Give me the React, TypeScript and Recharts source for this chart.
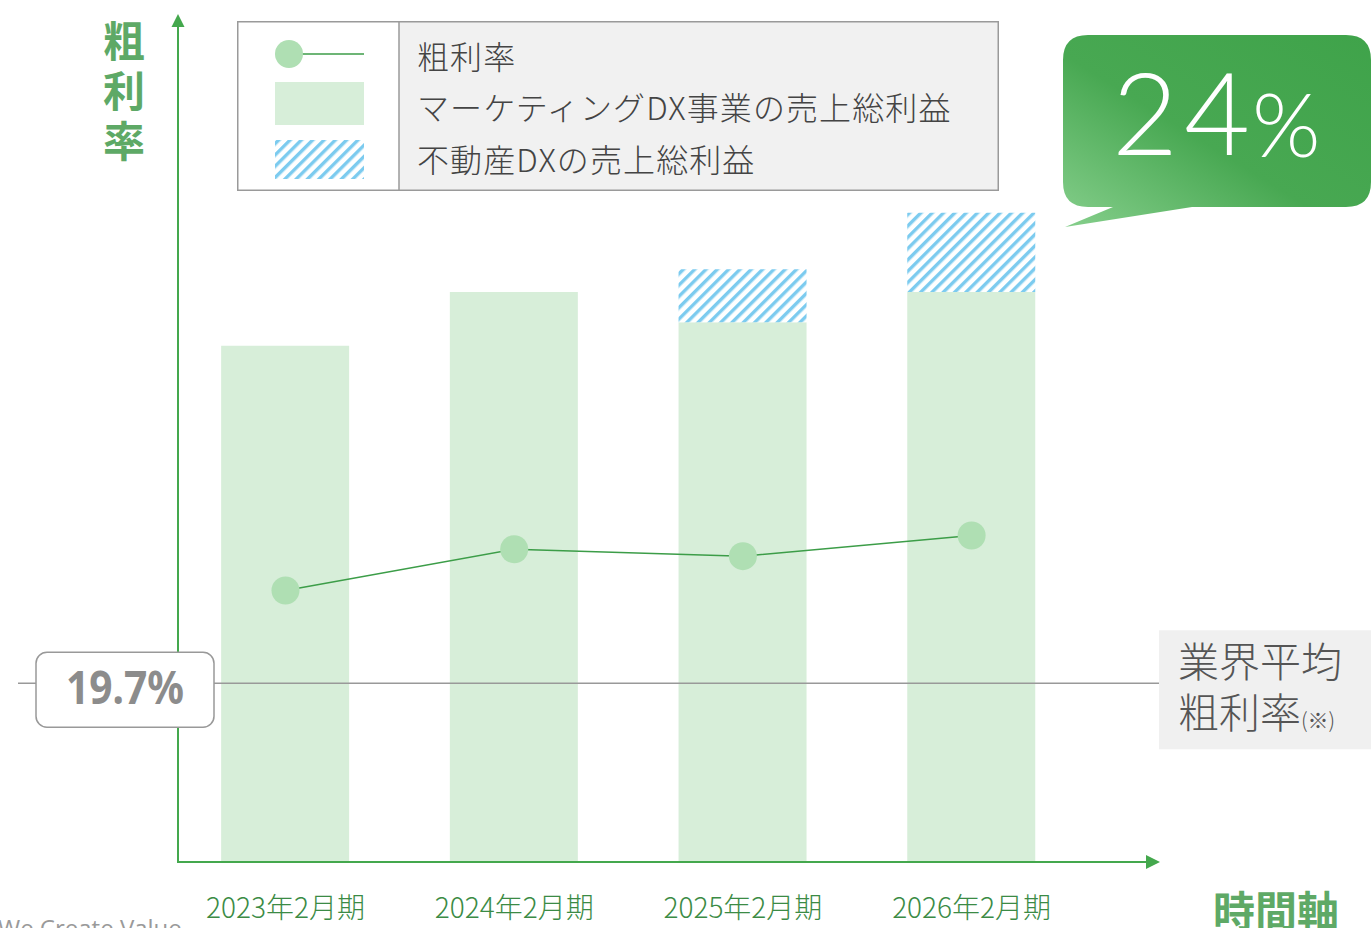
import React from 'react';
import { ComposedChart, Bar, Line, XAxis, YAxis, ReferenceLine, Legend } from 'recharts';

// 決算期
const periods = ['2023年2月期', '2024年2月期', '2025年2月期', '2026年2月期'];
// 売上総利益 (相対値)
const marketingProfit = [61.3, 67.7, 64.1, 67.7];
const realEstateProfit = [0, 0, 6.3, 9.4];
// 粗利率 (%)
const grossMargin = [22.4, 23.6, 23.4, 24.0];
const industryAverage = 19.7;
const targetMargin = '24';

const seriesNames: Record<string, string> = {
  margin: '粗利率',
  marketing: 'マーケティングDX事業の売上総利益',
  realEstate: '不動産DXの売上総利益',
};
const legendOrder = ['margin', 'marketing', 'realEstate'];

const data = periods.map((period, i) => ({
  idx: i,
  period,
  marketing: marketingProfit[i],
  realEstate: realEstateProfit[i],
  margin: grossMargin[i],
}));

const jp = '"Noto Sans CJK JP", "Noto Sans", sans-serif';
const axisGreen = '#44a84d';
const titleGreen = '#5ea966';
const barGreen = '#d7eed9';
const dotGreen = '#afdfb3';
const lineGreen = '#3c9d48';
const stripeBlue = '#7ccbef';

const HatchDef = ({ id }: { id: string }) => (
  <pattern id={id} patternUnits="userSpaceOnUse" width={8} height={8} patternTransform="rotate(45)">
    <rect width={8} height={8} fill="#fff" />
    <rect width={3.4} height={8} fill={stripeBlue} />
  </pattern>
);

const CategoryTick = (props: any) => {
  const { x, y, payload } = props;
  return (
    <text x={x} y={y + 56} textAnchor="middle" fill="#3b8b45" fontSize={28} fontFamily={jp} fontWeight={300}>
      {periods[payload.value]}
    </text>
  );
};

const renderLegend = (props: any) => {
  const items = [...(props.payload ?? [])].sort(
    (a: any, b: any) => legendOrder.indexOf(a.dataKey) - legendOrder.indexOf(b.dataKey)
  );
  const rowY = [36, 87, 139];
  return (
    <svg width={762} height={170} style={{ display: 'block' }}>
      <defs>
        <HatchDef id="legendHatch" />
      </defs>
      <rect x={162} y={0} width={600} height={170} fill="#f1f1f1" />
      <rect x={0.75} y={0.75} width={760.5} height={168.5} fill="none" stroke="#9a9a9a" strokeWidth={1.5} />
      <line x1={162} y1={0} x2={162} y2={170} stroke="#9a9a9a" strokeWidth={1.5} />
      {items.map((item: any, i: number) => {
        const cy = rowY[i];
        let symbol = null;
        if (item.dataKey === 'margin') {
          symbol = (
            <g>
              <line x1={52} y1={cy - 3} x2={127} y2={cy - 3} stroke={lineGreen} strokeWidth={1.5} />
              <circle cx={52} cy={cy - 3} r={14} fill={dotGreen} />
            </g>
          );
        } else if (item.dataKey === 'marketing') {
          symbol = <rect x={38} y={cy - 26} width={89} height={43} fill={barGreen} />;
        } else {
          symbol = <rect x={38} y={cy - 20} width={89} height={39} fill="url(#legendHatch)" />;
        }
        return (
          <g key={item.dataKey}>
            {symbol}
            <text x={180} y={cy + 12} fontSize={32} fill="#444" fontFamily={jp} fontWeight={300} letterSpacing={1.1}>
              {seriesNames[item.dataKey]}
            </text>
          </g>
        );
      })}
    </svg>
  );
};

const AverageLine = (props: any) => {
  const left = Math.min(props.x1, props.x2);
  const right = Math.max(props.x1, props.x2);
  const y = props.y1;
  return (
    <g>
      <line x1={left - 160} y1={y} x2={right + 4} y2={y} stroke="#999" strokeWidth={1.5} />
      <rect x={left - 142} y={y - 31} width={178} height={75} rx={11} fill="#fff" stroke="#999" strokeWidth={1.5} />
      <text
        x={left - 112}
        y={y + 21}
        fontSize={46}
        fontWeight={700}
        fill="#8c8c8c"
        fontFamily='"Noto Sans", sans-serif'
        textLength={118}
        lengthAdjust="spacingAndGlyphs"
      >
        {`${industryAverage}%`}
      </text>
      <rect x={right + 1} y={y - 53} width={1371 - right} height={119} fill="#f0f0f0" />
      <text x={right + 20} y={y - 6} fontSize={41} fill="#555" fontFamily={jp} fontWeight={300}>
        業界平均
      </text>
      <text x={right + 20} y={y + 45} fontSize={41} fill="#555" fontFamily={jp} fontWeight={300}>
        粗利率
        <tspan fontSize={21}>(※)</tspan>
      </text>
    </g>
  );
};

export default function App() {
  return (
    <div
      style={{
        position: 'absolute',
        left: 0,
        top: 0,
        width: 1371,
        height: 928,
        background: '#fff',
        overflow: 'hidden',
        fontFamily: jp,
      }}
    >
      {/* background layer: y axis line, arrows, titles, callout */}
      <svg width={1371} height={928} style={{ position: 'absolute', left: 0, top: 0 }}>
        <defs>
          <linearGradient id="bubbleFill" x1="0" y1="1" x2="1" y2="0">
            <stop offset="0%" stopColor="#86cf8c" />
            <stop offset="45%" stopColor="#48a852" />
            <stop offset="100%" stopColor="#3fa34a" />
          </linearGradient>
        </defs>
        <line x1={178} y1={20} x2={178} y2={863} stroke={axisGreen} strokeWidth={2} />
        <polygon points="178,14 171.5,27 184.5,27" fill={axisGreen} />
        <polygon points="1160,862 1146,855 1146,869" fill={axisGreen} />
        <text x={124} y={57} textAnchor="middle" fontSize={42} fontWeight={700} fill={titleGreen} fontFamily={jp}>
          <tspan x={124} dy={0}>粗</tspan>
          <tspan x={124} dy={50}>利</tspan>
          <tspan x={124} dy={50}>率</tspan>
        </text>
        <text x={1276} y={927} textAnchor="middle" fontSize={42} fontWeight={700} fill={titleGreen} fontFamily={jp}>
          時間軸
        </text>
        <path
          d="M 1088 35 H 1346 Q 1371 35 1371 60 V 182 Q 1371 207 1346 207 H 1192 L 1065 227 L 1113 207 H 1088 Q 1063 207 1063 182 V 60 Q 1063 35 1088 35 Z"
          fill="url(#bubbleFill)"
        />
        <text x={1112} y={155} fontSize={114} fill="#fff" fontFamily="Lato, sans-serif" fontWeight={300} letterSpacing={6}>
          {targetMargin}
        </text>
        <text x={1252} y={157} fontSize={88} fill="#fff" fontFamily="Lato, sans-serif" fontWeight={300}>
          %
        </text>
        <text x={-2} y={937} fontSize={24} fill="#9a9a9a" fontFamily='"Open Sans", sans-serif'>
          We Create Value
        </text>
      </svg>

      <div style={{ position: 'absolute', left: 0, top: 0 }}>
        <ComposedChart width={1371} height={928} data={data} margin={{ top: 20, right: 213, bottom: 0, left: 0 }}>
          <defs>
            <HatchDef id="barHatch" />
          </defs>
          <XAxis
            type="number"
            dataKey="idx"
            domain={[-0.47, 3.815]}
            ticks={[0, 1, 2, 3]}
            allowDataOverflow
            height={66}
            tickSize={0}
            tickMargin={0}
            tickLine={false}
            axisLine={{ stroke: axisGreen, strokeWidth: 2 }}
            tick={<CategoryTick />}
          />
          <YAxis yAxisId="left" width={178} domain={[0, 100]} allowDataOverflow tick={false} tickLine={false} axisLine={false} />
          <YAxis yAxisId="right" orientation="right" hide domain={[14.5, 39]} allowDataOverflow />
          <Legend
            layout="horizontal"
            verticalAlign="middle"
            align="center"
            width={762}
            height={170}
            wrapperStyle={{ left: 237, top: 21, width: 762, height: 170 }}
            content={renderLegend}
          />
          <Bar
            yAxisId="left"
            dataKey="marketing"
            name={seriesNames.marketing}
            stackId="profit"
            fill={barGreen}
            barSize={128}
            isAnimationActive={false}
          />
          <Bar
            yAxisId="left"
            dataKey="realEstate"
            name={seriesNames.realEstate}
            stackId="profit"
            fill="url(#barHatch)"
            barSize={128}
            isAnimationActive={false}
          />
          <ReferenceLine yAxisId="right" y={industryAverage} shape={AverageLine} />
          <Line
            yAxisId="right"
            dataKey="margin"
            name={seriesNames.margin}
            stroke={lineGreen}
            strokeWidth={1.5}
            dot={{ r: 14, fill: dotGreen, stroke: 'none', fillOpacity: 1 }}
            activeDot={false}
            isAnimationActive={false}
          />
        </ComposedChart>
      </div>
    </div>
  );
}
